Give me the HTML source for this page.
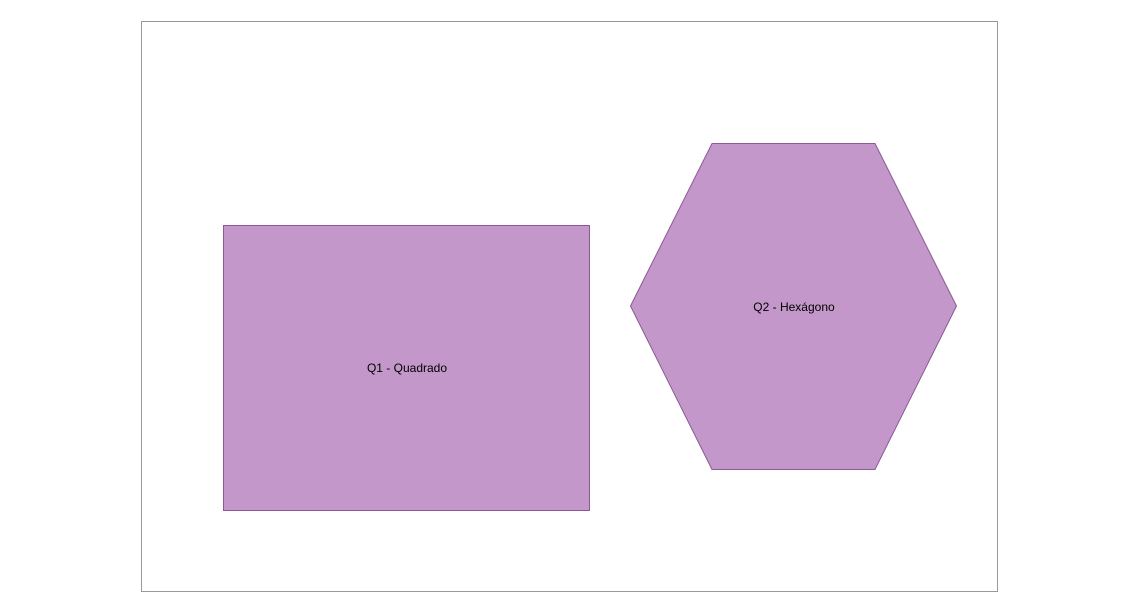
<!DOCTYPE html>
<html><head><style>html,body{margin:0;padding:0;background:#fff;width:1139px;height:613px;overflow:hidden}</style></head>
<body>
<svg width="1139" height="613" xmlns="http://www.w3.org/2000/svg" font-family="Liberation Sans, sans-serif" font-size="12">
<rect x="141.5" y="21.5" width="856" height="570" fill="#fff" stroke="#999"/>
<rect x="223.5" y="225.5" width="366" height="285" fill="#c397c9" stroke="#8a5a94"/>
<text x="407" y="372" text-anchor="middle" fill="#000">Q1 - Quadrado</text>
<polygon points="712,143.5 875,143.5 956.5,306 875,469.5 712,469.5 630.5,306" fill="#c397c9" stroke="#8a5a94"/>
<text x="794" y="311" text-anchor="middle" fill="#000">Q2 - Hexágono</text>
</svg>
</body></html>
